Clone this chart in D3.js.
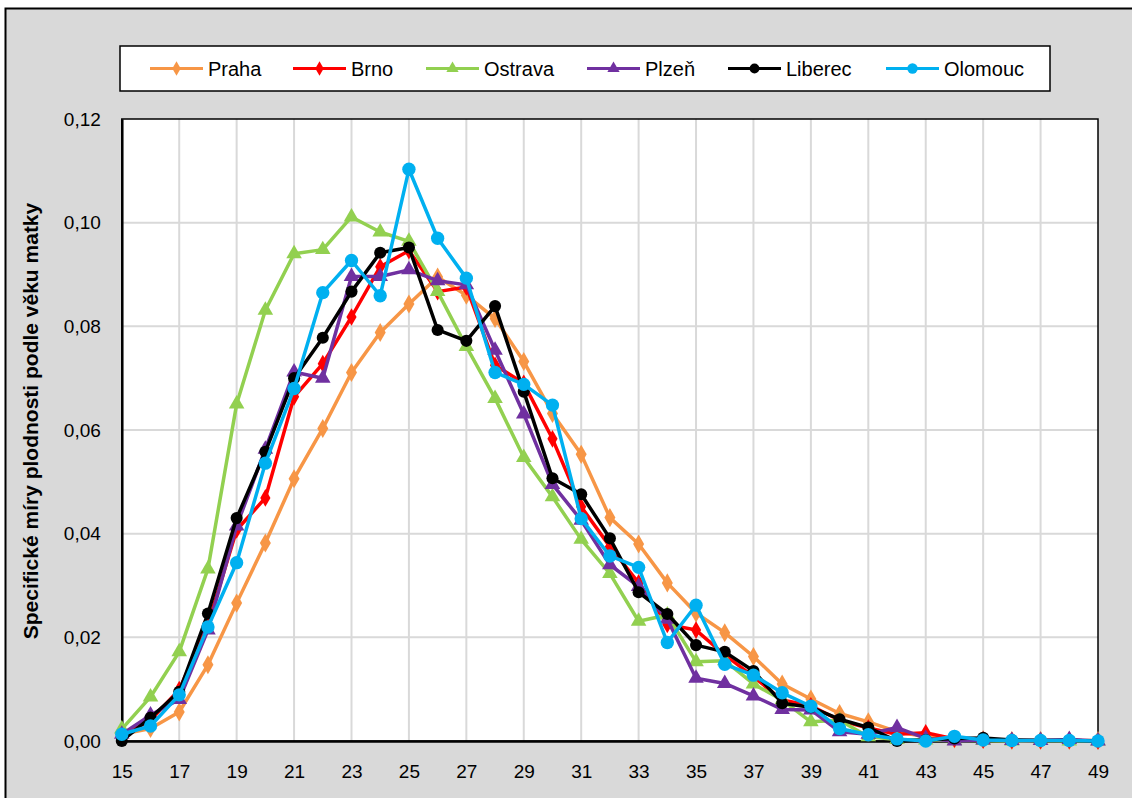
<!DOCTYPE html>
<html>
<head>
<meta charset="utf-8">
<script src="https://cdn.jsdelivr.net/npm/d3@7"></script>
<style>
html,body{margin:0;padding:0;background:#fff;}
svg{display:block;}
text{font-family:"Liberation Sans",Arial,sans-serif;}
</style>
</head>
<body>
<svg id="chart" width="1132" height="798"></svg>
<script>
const ages = d3.range(15, 50);
const xTicks = [15,17,19,21,23,25,27,29,31,33,35,37,39,41,43,45,47,49];
const yTicks = [0,0.02,0.04,0.06,0.08,0.10,0.12];
const seriesNames = ["Praha","Brno","Ostrava","Plzeň","Liberec","Olomouc"];

const praha = [0.0013,0.0024,0.0056,0.0147,0.0266,0.0382,0.0506,0.0603,0.0711,0.0788,0.0843,0.0895,0.0860,0.0815,0.0732,0.0632,0.0553,0.0431,0.0380,0.0305,0.0247,0.0209,0.0163,0.0110,0.0081,0.0053,0.0037,0.0018,0.0008,0.0004,0.0003,0.0001,0.0001,0.0001,0.0001];
const brno = [0.0010,0.0040,0.0099,0.0225,0.0407,0.0469,0.0664,0.0728,0.0818,0.0915,0.0946,0.0867,0.0876,0.0725,0.0690,0.0583,0.0452,0.0375,0.0305,0.0225,0.0214,0.0166,0.0124,0.0079,0.0068,0.0040,0.0025,0.0013,0.0016,0.0004,0.0002,0.0001,0.0001,0.0001,0.0000];
const ostrava = [0.0023,0.0085,0.0172,0.0332,0.0650,0.0831,0.0940,0.0948,0.1011,0.0982,0.0964,0.0867,0.0761,0.0661,0.0547,0.0471,0.0389,0.0323,0.0231,0.0243,0.0153,0.0155,0.0110,0.0079,0.0037,0.0040,0.0008,0.0003,0.0002,0.0001,0.0001,0.0000,0.0001,0.0000,0.0000];
const plzen = [0.0013,0.0050,0.0080,0.0214,0.0415,0.0563,0.0712,0.0700,0.0896,0.0896,0.0909,0.0888,0.0880,0.0754,0.0631,0.0495,0.0426,0.0340,0.0298,0.0235,0.0121,0.0111,0.0087,0.0061,0.0060,0.0018,0.0013,0.0026,0.0005,0.0000,0.0002,0.0001,0.0001,0.0003,0.0000];
const liberec = [0.0000,0.0045,0.0095,0.0246,0.0430,0.0558,0.0700,0.0778,0.0867,0.0942,0.0952,0.0793,0.0772,0.0839,0.0674,0.0507,0.0476,0.0391,0.0287,0.0245,0.0185,0.0172,0.0135,0.0073,0.0065,0.0042,0.0026,0.0000,0.0002,0.0005,0.0006,0.0002,0.0001,0.0001,0.0000];
const olomouc = [0.0013,0.0029,0.0089,0.0220,0.0344,0.0536,0.0680,0.0865,0.0927,0.0859,0.1103,0.0970,0.0893,0.0711,0.0688,0.0648,0.0429,0.0357,0.0335,0.0190,0.0262,0.0148,0.0127,0.0093,0.0067,0.0024,0.0012,0.0004,0.0000,0.0009,0.0002,0.0001,0.0001,0.0001,0.0000];

const series = [
  {name:"Praha", values:praha, color:"#f79646", symbol:d3.symbolDiamond, size:105, lsize:60},
  {name:"Brno", values:brno, color:"#ff0000", symbol:d3.symbolDiamond, size:90, lsize:60},
  {name:"Ostrava", values:ostrava, color:"#92d050", symbol:d3.symbolTriangle, size:105, lsize:65},
  {name:"Plzeň", values:plzen, color:"#7030a0", symbol:d3.symbolTriangle, size:105, lsize:65},
  {name:"Liberec", values:liberec, color:"#000000", symbol:d3.symbolCircle, size:115, lsize:75},
  {name:"Olomouc", values:olomouc, color:"#00b0f0", symbol:d3.symbolCircle, size:140, lsize:85}
];

const svg = d3.select("#chart");
const L = 121.8, R = 1098, T = 119, B = 741;

// outer chart area
svg.append("rect").attr("x",5.5).attr("y",8.5).attr("width",1140).attr("height",820)
  .attr("fill","#d9d9d9").attr("stroke","#000").attr("stroke-width",2);

const x = d3.scaleLinear().domain([15,49]).range([L,R]);
const y = d3.scaleLinear().domain([0,0.12]).range([B,T]);

// plot area
svg.append("rect").attr("x",L).attr("y",T).attr("width",R-L).attr("height",B-T).attr("fill","#fff");

// gridlines
const grid = svg.append("g");
grid.selectAll("line.h").data(yTicks.filter(d=>d>0 && d<0.12)).join("line")
  .attr("x1",L).attr("x2",R).attr("y1",d=>y(d)).attr("y2",d=>y(d))
  .attr("stroke","#d9d9d9").attr("stroke-width",2);
grid.selectAll("line.v").data(xTicks.filter(d=>d>15 && d<49)).join("line")
  .attr("x1",d=>x(d)).attr("x2",d=>x(d)).attr("y1",T).attr("y2",B)
  .attr("stroke","#d9d9d9").attr("stroke-width",2);

// plot border
svg.append("rect").attr("x",L).attr("y",T).attr("width",R-L).attr("height",B-T)
  .attr("fill","none").attr("stroke","#000").attr("stroke-width",1.5);

// axes
const yAxis = d3.axisLeft(y).tickValues(yTicks).tickSize(0).tickPadding(21)
  .tickFormat(d=>d3.format(".2f")(d).replace(".",","));
const gy = svg.append("g").attr("transform",`translate(${L},0)`).call(yAxis);
gy.select(".domain").attr("stroke","#000").attr("stroke-width",2.5);
gy.selectAll("text").attr("font-size",19).attr("fill","#000");

const xAxis = d3.axisBottom(x).tickValues(xTicks).tickSize(0).tickPadding(24).tickFormat(d3.format("d"));
const gx = svg.append("g").attr("transform",`translate(0,${B})`).call(xAxis);
gx.select(".domain").attr("stroke","#000").attr("stroke-width",2.5);
gx.selectAll("text").attr("font-size",19).attr("fill","#000");

// y title
svg.append("text").attr("transform","translate(38,421) rotate(-90)")
  .attr("text-anchor","middle").attr("font-size",21).attr("font-weight","bold")
  .text("Specifické míry plodnosti podle věku matky");

// series
const line = d3.line().x((d,i)=>x(ages[i])).y(d=>y(d));
const plot = svg.append("g");
series.forEach(s=>{
  const g = plot.append("g");
  g.append("path").datum(s.values).attr("d",line).attr("fill","none")
    .attr("stroke",s.color).attr("stroke-width",3.5).attr("stroke-linejoin","round");
  g.selectAll("path.m").data(s.values).join("path").attr("class","m")
    .attr("transform",(d,i)=>`translate(${x(ages[i])},${y(d)})`)
    .attr("d",d3.symbol().type(s.symbol).size(s.size)).attr("fill",s.color);
});

// legend
const leg = svg.append("g");
leg.append("rect").attr("x",120).attr("y",46).attr("width",930).attr("height",45)
  .attr("fill","#fff").attr("stroke","#000").attr("stroke-width",1.5);
const legX = [150,293,426,587,728,886];
series.forEach((s,i)=>{
  const lx = legX[i], ly = 68.5;
  leg.append("line").attr("x1",lx).attr("x2",lx+53).attr("y1",ly).attr("y2",ly)
    .attr("stroke",s.color).attr("stroke-width",3);
  leg.append("path").attr("transform",`translate(${lx+26.5},${ly})`)
    .attr("d",d3.symbol().type(s.symbol).size(s.lsize)).attr("fill",s.color);
  leg.append("text").attr("x",lx+58).attr("y",ly).attr("dy","0.35em")
    .attr("font-size",20).text(s.name);
});
</script>
</body>
</html>
